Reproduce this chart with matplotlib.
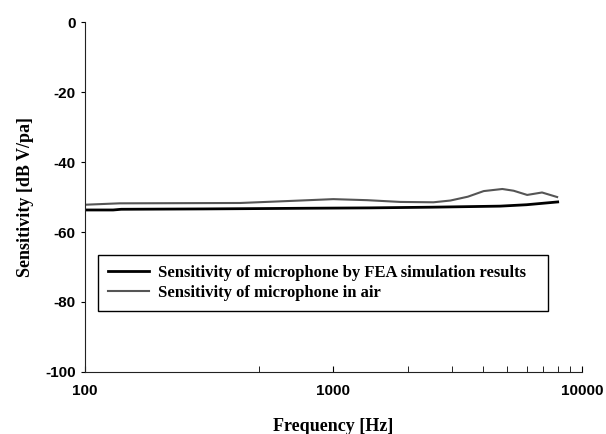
import matplotlib
matplotlib.use("Agg")
import matplotlib.pyplot as plt
from matplotlib.ticker import FixedLocator, FixedFormatter, NullFormatter

plt.rcParams["axes.unicode_minus"] = False

# FEA simulation curve (Hz, dB V/Pa)
fea_freq = [100, 130, 140, 300, 500, 800, 1400, 2500, 4700, 6000, 8000]
fea_sens = [-53.7, -53.7, -53.5, -53.4, -53.3, -53.2, -53.1, -52.9, -52.6, -52.2, -51.4]

# measured in air
air_freq = [100, 138, 422, 736, 1000, 1370, 1860, 2530, 2960, 3480, 4030, 4790, 5320, 6030, 6920, 7960]
air_sens = [-52.2, -51.8, -51.7, -51.0, -50.6, -50.9, -51.4, -51.5, -51.0, -49.9, -48.3, -47.7, -48.2, -49.4, -48.7, -50.0]

labels = ["Sensitivity of microphone by FEA simulation results",
          "Sensitivity of microphone in air"]
x_ticks = [100, 1000, 10000]
x_ticklabels = ["100", "1000", "10000"]
y_ticks = [0, -20, -40, -60, -80, -100]

fig = plt.figure(figsize=(6.06, 4.34), dpi=100)
ax = fig.add_axes([0.140, 0.143, 0.820, 0.806])

ax.plot(fea_freq, fea_sens, color="black", lw=2.0, label=labels[0])
ax.plot(air_freq, air_sens, color="#555555", lw=1.5, label=labels[1])

ax.set_xscale("log")
ax.set_xlim(100, 10000)
ax.set_ylim(-100, 0)
ax.set_yticks(y_ticks)
ax.xaxis.set_major_locator(FixedLocator(x_ticks))
ax.xaxis.set_major_formatter(FixedFormatter(x_ticklabels))
ax.xaxis.set_minor_locator(FixedLocator([500, 2000, 3000, 4000, 5000, 6000, 7000, 8000, 9000]))
ax.xaxis.set_minor_formatter(NullFormatter())

for s in ["top", "right"]:
    ax.spines[s].set_visible(False)
ax.spines["left"].set_color("#222222")
ax.spines["bottom"].set_color("#222222")

ax.tick_params(axis="x", which="both", direction="in", length=4, pad=9)
ax.tick_params(axis="y", direction="out", length=3)
for t in ax.get_xticklabels() + ax.get_yticklabels():
    t.set_fontfamily("Liberation Sans")
    t.set_fontweight("bold")
    t.set_fontsize(11)

ax.set_xlabel("Frequency [Hz]", fontfamily="Liberation Serif", fontweight="bold", fontsize=13, labelpad=14)
ax.set_ylabel("Sensitivity [dB V/pa]", fontfamily="Liberation Serif", fontweight="bold", fontsize=13, labelpad=8)

leg = ax.legend(loc="upper left", bbox_to_anchor=(0.026, 0.163, 0.906, 0.171), mode="expand",
                frameon=True, fancybox=False, edgecolor="black", handlelength=2.5,
                handletextpad=0.5, borderaxespad=0, borderpad=0.6, framealpha=1,
                prop={"family": "Liberation Serif", "weight": "bold", "size": 12},
                labelspacing=0.25)
leg.get_frame().set_linewidth(1.0)

fig.savefig("out.png", dpi=100)
